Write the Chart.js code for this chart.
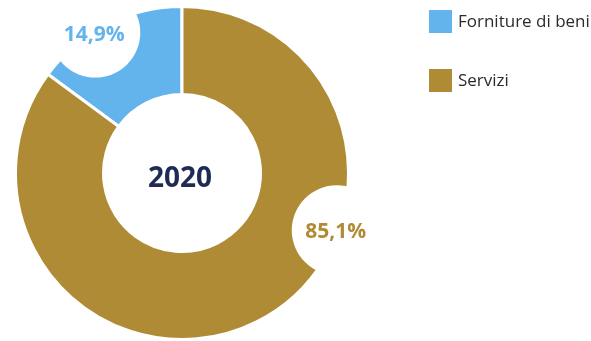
<!DOCTYPE html>
<html>
<head>
<meta charset="utf-8">
<script src="https://cdn.jsdelivr.net/npm/chart.js@4"></script>
<style>
  html, body { margin: 0; padding: 0; background: #fff; }
  #wrap { width: 591px; height: 341px; position: relative; }
</style>
</head>
<body>
<div id="wrap"><canvas id="c" width="591" height="341"></canvas></div>
<script>
const categories = ["Forniture di beni", "Servizi"];
const values = [14.9, 85.1];
const valueLabels = ["14,9%", "85,1%"];
const centerLabel = "2020";
const colors = ["#63B4EC", "#B08B36"];

const total = values.reduce((a, b) => a + b, 0);
const FONT = "'Open Sans', sans-serif";

const decorPlugin = {
  id: 'decor',
  afterDatasetsDraw(chart) {
    const ctx = chart.ctx;
    const meta = chart.getDatasetMeta(0);
    const arc0 = meta.data[0];
    const cx = arc0.x, cy = arc0.y, R = 165;
    const angles = [-31.7, 110.3];
    ctx.save();
    angles.forEach((deg, i) => {
      const a = (deg - 90) * Math.PI / 180;
      const x = cx + R * Math.cos(a);
      const y = cy + R * Math.sin(a);
      ctx.beginPath();
      ctx.arc(x, y, 45, 0, Math.PI * 2);
      ctx.fillStyle = '#ffffff';
      ctx.fill();
      ctx.fillStyle = colors[i];
      ctx.font = "700 21px " + FONT;
      ctx.textAlign = 'center';
      ctx.textBaseline = 'middle';
      ctx.fillText(valueLabels[i], x - 1, y + 2);
    });
    ctx.fillStyle = '#1F2A55';
    ctx.font = "700 28px " + FONT;
    ctx.textAlign = 'center';
    ctx.textBaseline = 'middle';
    ctx.fillText(centerLabel, cx - 2, cy + 6);
    const lx = 429, ly = [10, 69];
    chart.data.labels.forEach((lab, i) => {
      ctx.fillStyle = colors[i];
      ctx.fillRect(lx, ly[i], 23, 23);
      ctx.fillStyle = '#2B2B2B';
      ctx.font = "400 17px " + FONT;
      ctx.textAlign = 'left';
      ctx.textBaseline = 'middle';
      ctx.fillText(lab, lx + 29, ly[i] + 12);
    });
    ctx.restore();
  }
};

new Chart(document.getElementById('c'), {
  type: 'doughnut',
  data: {
    labels: categories,
    datasets: [{
      data: values,
      backgroundColor: colors,
      borderColor: '#ffffff',
      borderWidth: 3,
      borderAlign: 'center'
    }]
  },
  options: {
    responsive: false,
    animation: false,
    rotation: -values[0] / total * 360,
    radius: 166.5,
    cutout: 78.5,
    layout: { padding: { left: 0, right: 227, top: 5, bottom: 0 } },
    plugins: {
      legend: { display: false },
      tooltip: { enabled: false }
    }
  },
  plugins: [decorPlugin]
});
</script>
</body>
</html>
